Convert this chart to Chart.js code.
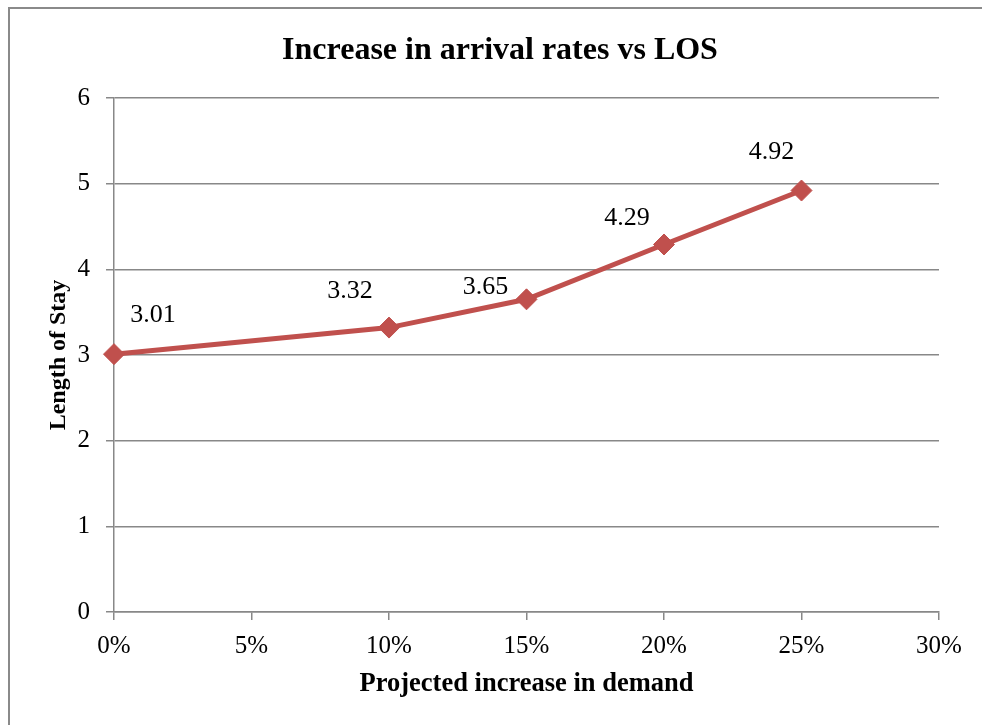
<!DOCTYPE html>
<html>
<head>
<meta charset="utf-8">
<script src="https://cdn.jsdelivr.net/npm/chart.js@4"></script>
<style>
  html, body { margin: 0; padding: 0; background: #fff; }
  #wrap { width: 982px; height: 725px; }
</style>
</head>
<body>
<div id="wrap"><canvas id="losChart" width="982" height="725"></canvas></div>
<script>
var demandIncrease = [0, 10, 15, 20, 25];
var lengthOfStay = [3.01, 3.32, 3.65, 4.29, 4.92];
var xTicks = [0, 5, 10, 15, 20, 25, 30];
var yTicks = [0, 1, 2, 3, 4, 5, 6];

// hand-placed label nudges (px) relative to each marker
var labelNudge = [[39, -39], [-39, -36], [-41, -12], [-37, -26], [-30, -38]];

var serif = "'Liberation Serif', 'Times New Roman', serif";
var gridGrey = "#888888";

// outer frame of the chart
var frame = {
  id: "frame",
  afterDraw: function (chart) {
    var c = chart.ctx;
    c.save();
    c.strokeStyle = "#8a8a8a";
    c.lineWidth = 2;
    c.strokeRect(9, 8, chart.width + 20, chart.height + 20);
    c.restore();
  }
};

// value labels next to each marker
var pointLabels = {
  id: "pointLabels",
  afterDatasetsDraw: function (chart) {
    var c = chart.ctx;
    var meta = chart.getDatasetMeta(0);
    c.save();
    c.font = "26px " + serif;
    c.fillStyle = "#000";
    c.textAlign = "center";
    c.textBaseline = "middle";
    meta.data.forEach(function (pt, i) {
      var n = labelNudge[i];
      c.fillText(lengthOfStay[i].toFixed(2), pt.x + n[0], pt.y + n[1]);
    });
    c.restore();
  }
};

var ctx = document.getElementById("losChart");
var losChart = new Chart(ctx, {
  type: "scatter",
  data: {
    datasets: [{
      label: "Length of Stay",
      data: demandIncrease.map(function (x, i) { return { x: x, y: lengthOfStay[i] }; }),
      showLine: true,
      borderColor: "#C0504D",
      backgroundColor: "#C0504D",
      borderWidth: 5,
      pointStyle: "rectRot",
      pointRadius: 10.5,
      pointHoverRadius: 10.5,
      pointBorderWidth: 1,
      clip: false
    }]
  },
  options: {
    responsive: false,
    animation: false,
    events: [],
    layout: { padding: { left: 18, right: 0, top: 0, bottom: 0 } },
    plugins: {
      legend: { display: false },
      tooltip: { enabled: false },
      title: {
        display: true,
        text: "Increase in arrival rates vs LOS",
        color: "#000",
        font: { family: serif, size: 32, weight: "bold", lineHeight: 1.2 },
        padding: { top: 31.8, bottom: 27.8 }
      }
    },
    scales: {
      x: {
        type: "linear",
        min: 0,
        max: 30,
        afterBuildTicks: function (s) { s.ticks = xTicks.map(function (v) { return { value: v }; }); },
        afterFit: function (s) { s.height = 113; },
        ticks: {
          color: "#000",
          font: { family: serif, size: 25 },
          padding: 11,
          maxRotation: 0,
          callback: function (v) { return v + "%"; }
        },
        grid: { drawOnChartArea: false, color: gridGrey, tickLength: 8, lineWidth: 1.5 },
        border: { color: gridGrey, width: 1.5 },
        title: {
          display: true,
          text: "Projected increase in demand",
          color: "#000",
          font: { family: serif, size: 26.5, weight: "bold", lineHeight: 1.2 },
          padding: { top: 0, bottom: 25 }
        }
      },
      y: {
        min: 0,
        max: 6,
        afterBuildTicks: function (s) { s.ticks = yTicks.map(function (v) { return { value: v }; }); },
        afterFit: function (s) { s.width = 96; },
        ticks: {
          color: "#000",
          font: { family: serif, size: 25 },
          padding: 16
        },
        grid: { color: gridGrey, tickLength: 8, lineWidth: 1.5 },
        border: { color: gridGrey, width: 1.5 },
        title: {
          display: true,
          text: "Length of Stay",
          color: "#000",
          font: { family: serif, size: 24, weight: "bold", lineHeight: 1.2 },
          padding: { top: 26.6, bottom: 0 }
        }
      },
      // empty strip on the right so the plot ends short of the frame
      rightGap: {
        position: "right",
        display: true,
        afterFit: function (s) { s.width = 43; },
        ticks: { display: false },
        grid: { display: false },
        border: { display: false }
      }
    }
  },
  plugins: [frame, pointLabels]
});
</script>
</body>
</html>
